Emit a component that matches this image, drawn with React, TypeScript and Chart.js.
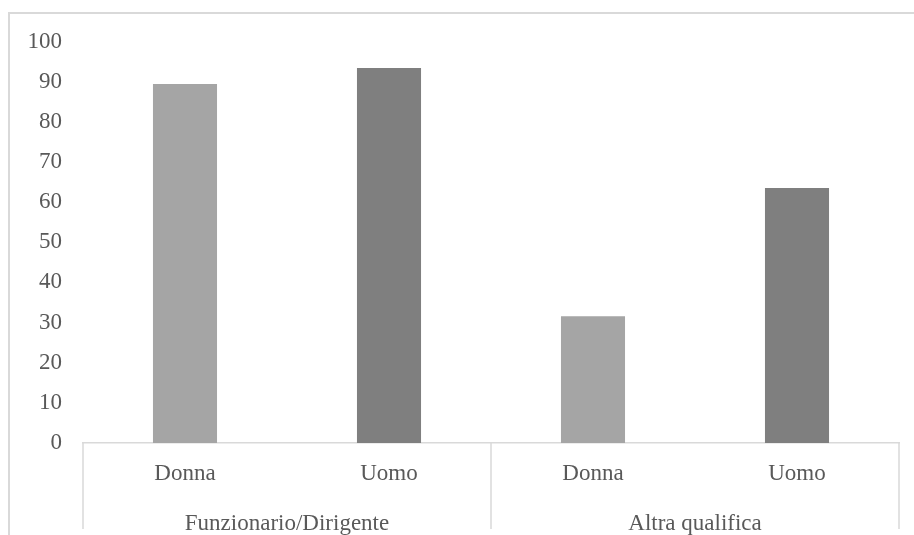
import React, { useEffect, useRef } from "react";
import { Chart, registerables } from "chart.js";

Chart.register(...registerables);

// Grouped categories: job level (outer) and gender (inner)
const groups = ["Funzionario/Dirigente", "Altra qualifica"];
const genders = ["Donna", "Uomo"];
const values = [89.4, 93.4, 31.6, 63.5];
const barColors = ["#a5a5a5", "#7f7f7f", "#a5a5a5", "#7f7f7f"];
const yTicks = [0, 10, 20, 30, 40, 50, 60, 70, 80, 90, 100];

const FONT = "'Liberation Serif', 'Times New Roman', serif";
const TEXT = "#595959";
const LINE = "#d9d9d9";

const labels = groups.flatMap(() => genders);

// Frame around the chart plus the two-level category axis
const groupAxisPlugin = {
  id: "groupAxis",
  beforeDraw(chart: any) {
    const { ctx, width, height } = chart;
    ctx.save();
    ctx.strokeStyle = LINE;
    ctx.lineWidth = 2;
    ctx.beginPath();
    ctx.moveTo(9, height);
    ctx.lineTo(9, 13);
    ctx.lineTo(width, 13);
    ctx.stroke();
    ctx.restore();
  },
  afterDraw(chart: any) {
    const { ctx, chartArea } = chart;
    const x = chart.scales.x;
    const base = chartArea.bottom;
    const lineEnd = 529;
    ctx.save();
    ctx.strokeStyle = LINE;
    ctx.lineWidth = 1.5;
    const n = labels.length;
    const per = genders.length;
    const bounds: number[] = [chartArea.left];
    for (let g = 1; g < groups.length; g++) {
      const i = g * per;
      bounds.push((x.getPixelForTick(i - 1) + x.getPixelForTick(i)) / 2);
    }
    bounds.push(chartArea.right);
    ctx.beginPath();
    bounds.forEach((bx) => {
      ctx.moveTo(bx, base);
      ctx.lineTo(bx, lineEnd);
    });
    ctx.stroke();

    ctx.fillStyle = TEXT;
    ctx.font = `23px ${FONT}`;
    ctx.textAlign = "center";
    ctx.textBaseline = "alphabetic";
    for (let i = 0; i < n; i++) {
      ctx.fillText(labels[i], x.getPixelForTick(i), 480);
    }
    groups.forEach((g, gi) => {
      ctx.fillText(g, (bounds[gi] + bounds[gi + 1]) / 2, 530);
    });
    ctx.restore();
  },
};

export default function App() {
  const ref = useRef<HTMLCanvasElement>(null);

  useEffect(() => {
    if (!ref.current) return;
    const chart = new Chart(ref.current, {
      type: "bar",
      data: {
        labels,
        datasets: [
          {
            data: values,
            backgroundColor: barColors,
            borderWidth: 0,
            categoryPercentage: 1,
            barPercentage: 0.314,
          },
        ],
      },
      options: {
        responsive: false,
        animation: false,
        layout: { padding: { top: 41.5, right: 15, left: 0, bottom: 0 } },
        plugins: { legend: { display: false }, tooltip: { enabled: false } },
        scales: {
          x: {
            grid: { display: false, drawTicks: false },
            border: { display: true, color: LINE, width: 1.5 },
            ticks: { display: false },
            afterFit(scale: any) {
              scale.height = 92;
            },
          },
          y: {
            min: 0,
            max: 100,
            afterBuildTicks(scale: any) {
              scale.ticks = yTicks.map((v) => ({ value: v }));
            },
            grid: { display: false, drawTicks: false },
            border: { display: false },
            ticks: {
              padding: 21,
              color: TEXT,
              font: { family: FONT, size: 23 },
            },
            afterFit(scale: any) {
              scale.width = 83;
            },
          },
        },
      },
      plugins: [groupAxisPlugin],
    });
    return () => chart.destroy();
  }, []);

  return (
    <div style={{ position: "fixed", left: 0, top: 0, width: 914, height: 535, background: "#fff" }}>
      <canvas ref={ref} width={914} height={535} style={{ display: "block" }} />
    </div>
  );
}
